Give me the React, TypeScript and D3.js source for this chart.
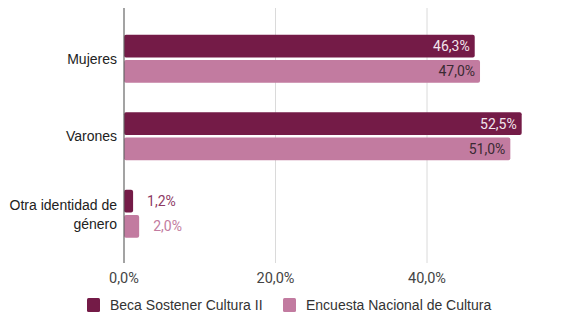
import React from "react";
import * as d3 from "d3";

const categories = ["Mujeres", "Varones", "Otra identidad de género"];
const series = ["Beca Sostener Cultura II", "Encuesta Nacional de Cultura"];
const becaValues = [46.3, 52.5, 1.2];
const encuestaValues = [47.0, 51.0, 2.0];
const xTicks = [0, 20, 40];

const colors = ["#741b47", "#c27ba0"];
const labelColors = ["#f3e6ed", "#3a2a33"];
const outsideColors = ["#8e3a64", "#c27ba0"];

const width = 573;
const height = 314;

const fmt = (v: number) => v.toFixed(1).replace(".", ",") + "%";

export default function App() {
  const x = d3.scaleLinear().domain([0, 20]).range([124, 275.5]);
  const y = d3.scaleBand().domain(categories).range([20, 252.5]);
  const inner = d3
    .scaleBand()
    .domain(series)
    .range([y.bandwidth() / 2 - 24, y.bandwidth() / 2 + 24])
    .paddingInner(0.1);

  const rows = categories.map((c, i) => ({
    cat: c,
    vals: [becaValues[i], encuestaValues[i]],
  }));

  return (
    <svg
      width={width}
      height={height}
      style={{ position: "absolute", left: 0, top: 0 }}
      fontFamily="Arial, 'Liberation Sans', sans-serif"
    >
      <rect width={width} height={height} fill="#fff" />
      {xTicks.map((t) => (
        <g key={t}>
          {t > 0 && (
            <line x1={x(t)} x2={x(t)} y1={8} y2={263} stroke="#dadada" strokeWidth={1} />
          )}
          <text
            x={x(t)}
            y={283}
            textAnchor="middle"
            fontSize={14.5}
            fill="#444"
            fontFamily="Roboto, sans-serif"
          >
            {fmt(t)}
          </text>
        </g>
      ))}
      {rows.map((r) => (
        <g key={r.cat} transform={`translate(0,${y(r.cat)})`}>
          {r.vals.map((v, j) => {
            const s = series[j];
            const by = inner(s)!;
            const bh = inner.bandwidth();
            const w = x(v) - x(0);
            const inside = w > 50;
            return (
              <g key={s}>
                <rect
                  x={x(0)}
                  y={by}
                  width={w}
                  height={bh}
                  rx={2}
                  fill={colors[j]}
                />
                <text
                  x={inside ? x(v) - 5 : x(v) + 14}
                  y={by + bh / 2}
                  dy="0.35em"
                  textAnchor={inside ? "end" : "start"}
                  fontSize={14}
                  fontFamily="Roboto, sans-serif"
                  fill={inside ? labelColors[j] : outsideColors[j]}
                >
                  {fmt(v)}
                </text>
              </g>
            );
          })}
          {r.cat === "Otra identidad de género" ? (
            <text x={117} textAnchor="end" fontSize={14} fill="#222">
              <tspan x={117} y={y.bandwidth() / 2 - 4}>
                Otra identidad de
              </tspan>
              <tspan x={117} y={y.bandwidth() / 2 + 15}>
                género
              </tspan>
            </text>
          ) : (
            <text
              x={117}
              y={y.bandwidth() / 2}
              dy="0.35em"
              textAnchor="end"
              fontSize={14}
              fill="#222"
            >
              {r.cat}
            </text>
          )}
        </g>
      ))}
      <line x1={x(0)} x2={x(0)} y1={8} y2={263} stroke="#666" strokeWidth={1.2} />
      {series.map((s, j) => {
        const lx = j === 0 ? 87 : 283;
        return (
          <g key={s}>
            <rect x={lx} y={298} width={13} height={14} rx={1.5} fill={colors[j]} />
            <text x={lx + 23} y={305} dy="0.35em" fontSize={14} fill="#333">
              {s}
            </text>
          </g>
        );
      })}
    </svg>
  );
}
